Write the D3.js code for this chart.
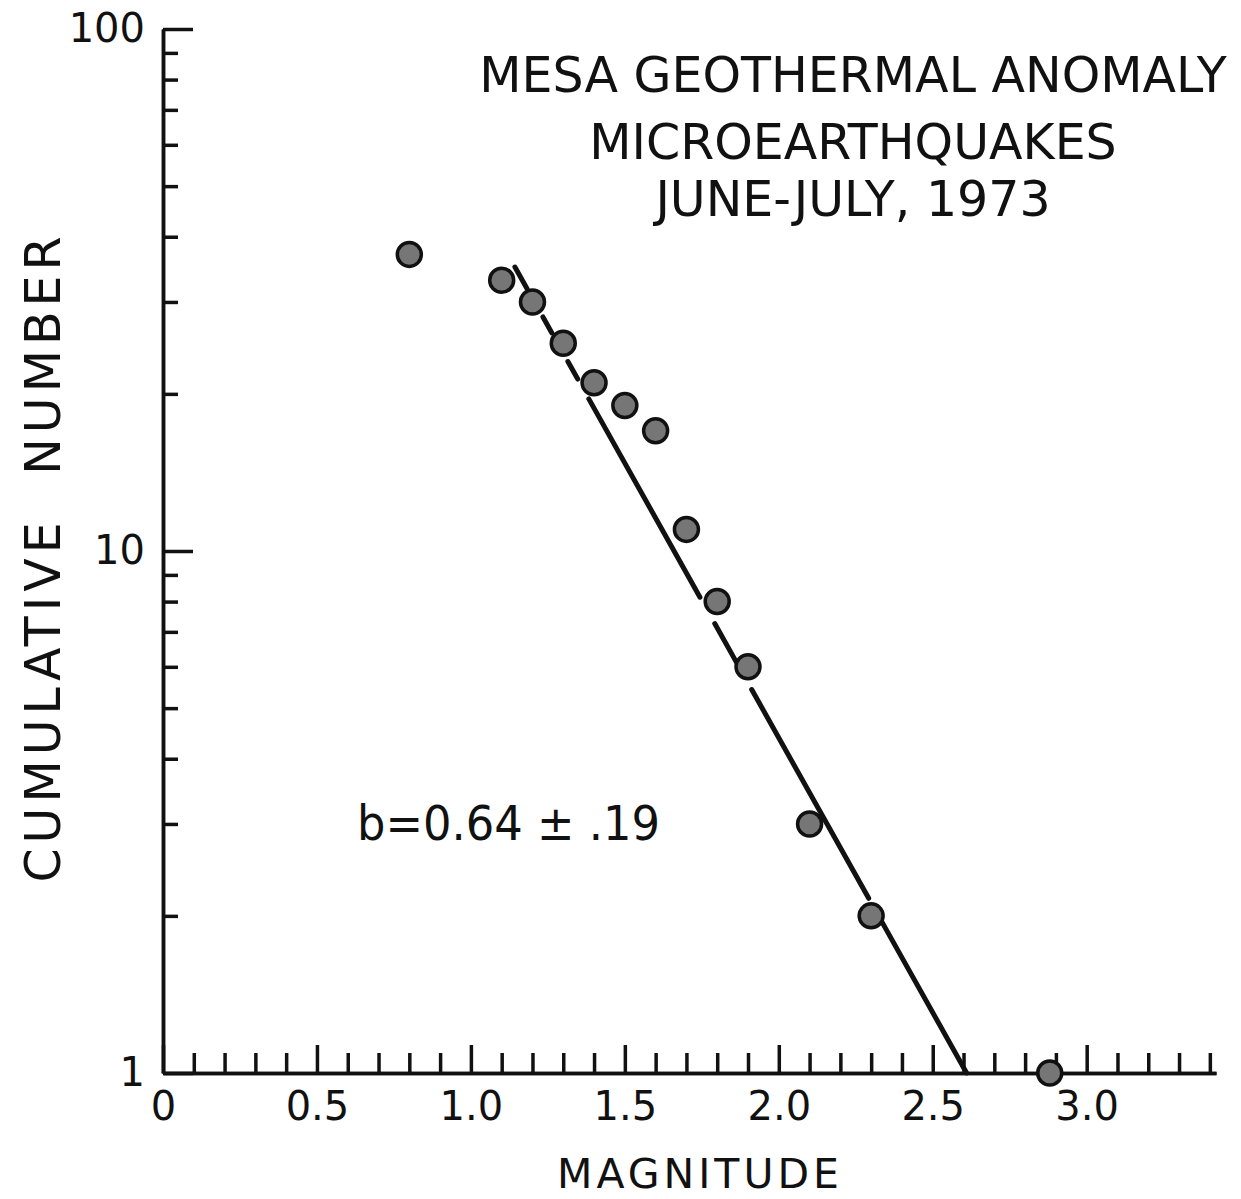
<!DOCTYPE html>
<html>
<head>
<meta charset="utf-8">
<script src="https://cdn.jsdelivr.net/npm/d3@7"></script>
<style>
  body { margin: 0; background: #fff; }
  text { font-family: "DejaVu Sans", sans-serif; fill: #111; }
</style>
</head>
<body>
<svg id="chart"></svg>
<script>
var width = 1241, height = 1199;

// earthquake data: magnitude vs cumulative number
var magnitudes = [0.8, 1.1, 1.2, 1.3, 1.4, 1.5, 1.6, 1.7, 1.8, 1.9, 2.1, 2.3, 2.88];
var cumulative = [37, 33, 30, 25, 21, 19, 17, 11, 8, 6, 3, 2, 1];

// fitted line ends and the pieces it is drawn in (broken round the dots)
var fitStart = [1.143, 35];
var fitEnd = [2.61, 1];
var fitPieces = [[1.143, 1.182], [1.234, 1.263], [1.315, 1.347], [1.383, 1.744],
                 [1.792, 1.864], [1.912, 2.292], [2.334, 2.61]];

var xMajor = [0, 0.5, 1.0, 1.5, 2.0, 2.5, 3.0];
var xLabels = ["0", "0.5", "1.0", "1.5", "2.0", "2.5", "3.0"];
var xMinor = d3.range(1, 35).map(function (i) { return i / 10; })
    .filter(function (v) { return Math.round(v * 10) % 5 != 0; });
var yMajor = [1, 10, 100];
var yMinor = [2, 3, 4, 5, 6, 7, 8, 9, 20, 30, 40, 50, 60, 70, 80, 90];
var titleLines = ["MESA GEOTHERMAL ANOMALY", "MICROEARTHQUAKES", "JUNE-JULY, 1973"];

var svg = d3.select("#chart").attr("width", width).attr("height", height);

var x = d3.scaleLinear().domain([0, 3.42]).range([163, 1216]);
var y = d3.scaleLog().domain([1, 100]).range([1073, 29]);

// x axis, ticks pointing up
svg.append("g")
    .attr("transform", "translate(0," + y(1) + ")")
    .call(d3.axisBottom(x).tickValues(xMinor).tickSize(-20).tickSizeOuter(0).tickFormat(""));
svg.append("g")
    .attr("transform", "translate(0," + y(1) + ")")
    .call(d3.axisBottom(x).tickValues(xMajor).tickSize(-28).tickSizeOuter(0)
        .tickPadding(19).tickFormat(function (d, i) { return xLabels[i]; }));

// y axis, ticks pointing right
svg.append("g")
    .attr("transform", "translate(" + x(0) + ",0)")
    .call(d3.axisLeft(y).tickValues(yMinor).tickSize(-15).tickSizeOuter(0).tickFormat(""));
svg.append("g")
    .attr("transform", "translate(" + x(0) + ",0)")
    .call(d3.axisLeft(y).tickValues(yMajor).tickSize(-30).tickSizeOuter(0)
        .tickPadding(18).tickFormat(d3.format("d")));

svg.selectAll(".domain, .tick line")
    .attr("stroke", "#111")
    .attr("stroke-width", 3.5);
svg.selectAll(".tick text")
    .style("font-family", "DejaVu Sans, sans-serif")
    .style("fill", "#111")
    .attr("font-size", 40);

// fitted line
var logA = Math.log10(fitStart[1]), logB = Math.log10(fitEnd[1]);
var fitY = function (m) {
    var t = (m - fitStart[0]) / (fitEnd[0] - fitStart[0]);
    return Math.pow(10, logA + t * (logB - logA));
};
svg.selectAll(".fit")
    .data(fitPieces)
    .enter().append("line")
    .attr("class", "fit")
    .attr("x1", function (d) { return x(d[0]); })
    .attr("y1", function (d) { return y(fitY(d[0])); })
    .attr("x2", function (d) { return x(d[1]); })
    .attr("y2", function (d) { return y(fitY(d[1])); })
    .attr("stroke", "#111")
    .attr("stroke-width", 5)
    .attr("stroke-linecap", "round");

// data points
svg.selectAll(".dot")
    .data(magnitudes)
    .enter().append("circle")
    .attr("class", "dot")
    .attr("cx", function (d) { return x(d); })
    .attr("cy", function (d, i) { return y(cumulative[i]); })
    .attr("r", 12)
    .attr("fill", "#767676")
    .attr("stroke", "#111")
    .attr("stroke-width", 3.5);

// title
svg.selectAll(".title")
    .data(titleLines)
    .enter().append("text")
    .attr("class", "title")
    .attr("x", 853)
    .attr("y", function (d, i) { return [92, 159, 216][i]; })
    .attr("text-anchor", "middle")
    .attr("font-size", 49)
    .text(function (d) { return d; });

svg.append("text")
    .attr("x", 357)
    .attr("y", 840)
    .attr("font-size", 48)
    .attr("textLength", 303)
    .attr("lengthAdjust", "spacingAndGlyphs")
    .text("b=0.64 ± .19");

svg.append("text")
    .attr("x", 700)
    .attr("y", 1188)
    .attr("text-anchor", "middle")
    .attr("font-size", 41)
    .attr("letter-spacing", 4)
    .text("MAGNITUDE");

svg.append("text")
    .attr("transform", "translate(60,557) rotate(-90)")
    .attr("text-anchor", "middle")
    .attr("font-size", 49)
    .attr("letter-spacing", 5)
    .attr("word-spacing", 22)
    .text("CUMULATIVE NUMBER");
</script>
</body>
</html>
